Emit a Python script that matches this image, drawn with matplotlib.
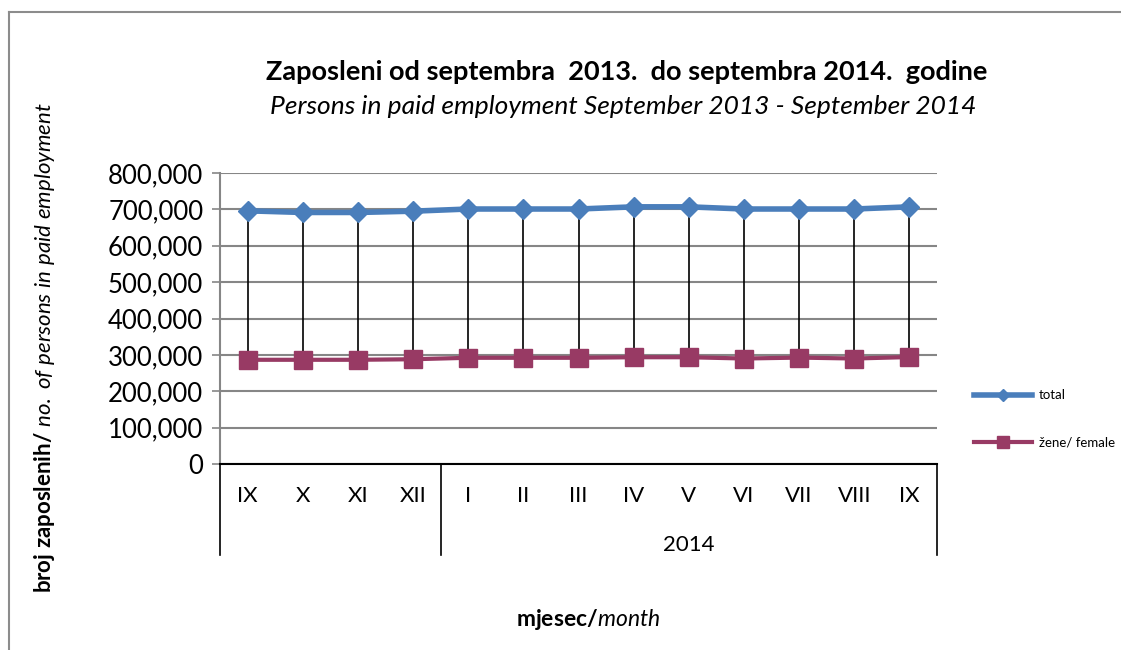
import matplotlib
matplotlib.use('Agg')
import matplotlib.pyplot as plt
import numpy as np
from matplotlib.ticker import FuncFormatter

# ----------------------------------------------------------
# Data (ocitano sa grafika)
# ----------------------------------------------------------
mjeseci = ['IX', 'X', 'XI', 'XII', 'I', 'II', 'III', 'IV', 'V', 'VI', 'VII', 'VIII', 'IX']
godine = ['', '2014']
godina_pocetak = [0, 4]          # indeks prvog mjeseca u svakoj grupi
ukupno = [696000, 691500, 691500, 695000, 701000, 701000, 701000,
          707000, 707000, 701000, 701000, 701000, 707000]
zene = [286500, 286500, 286500, 288000, 292000, 292000, 292000,
        293500, 293500, 290000, 292500, 290000, 294000]

y_ticks = np.arange(0, 800001, 100000)

plt.rcParams['font.family'] = ['Lato', 'DejaVu Sans']
plt.rcParams['mathtext.fontset'] = 'custom'
plt.rcParams['mathtext.rm'] = 'Lato'
plt.rcParams['mathtext.bf'] = 'Lato:bold'
plt.rcParams['mathtext.it'] = 'Lato:italic'

W, H = 1121, 650
fig = plt.figure(figsize=(W / 100, H / 100), dpi=100)

# okvir grafika (samo gornja i lijeva ivica su vidljive)
fig.add_artist(plt.Line2D([9 / W, 1], [1 - 12 / H, 1 - 12 / H], color='#8c8c8c', lw=1.5))
fig.add_artist(plt.Line2D([9 / W, 9 / W], [0, 1 - 12 / H], color='#8c8c8c', lw=1.5))

ax = fig.add_axes([220 / W, 186 / H, 717 / W, 291 / H])
x = np.arange(len(mjeseci))

ax.vlines(x, zene, ukupno, color='black', lw=1.2, zorder=2)
ax.plot(x, ukupno, color='#4a7ebb', lw=4, marker='D', markersize=10,
        label='total', zorder=3)
ax.plot(x, zene, color='#983a64', lw=3, marker='s', markersize=13,
        label='žene/ female', zorder=3)

ax.set_xlim(-0.5, len(mjeseci) - 0.5)
ax.set_ylim(0, 800000)
ax.set_yticks(y_ticks)
ax.yaxis.set_major_formatter(FuncFormatter(lambda v, p: f'{int(v):,}'))
ax.tick_params(axis='y', labelsize=18.5, length=6, color='#868686', width=1.2, pad=6)
ax.set_xticks([])
ax.grid(axis='y', color='#868686', lw=1.5)
ax.set_axisbelow(True)
for s in ['top', 'right']:
    ax.spines[s].set_visible(False)
ax.spines['left'].set_color('#868686')
ax.spines['left'].set_linewidth(1.5)
ax.spines['bottom'].set_color('black')
ax.spines['bottom'].set_linewidth(1.5)

# kategorijska osa u dva reda (mjesec / godina)
tr = ax.get_xaxis_transform()
dno = -91 / 291
granice = godina_pocetak + [len(mjeseci)]
for g in granice:
    ax.plot([g - 0.5, g - 0.5], [0, dno], transform=tr, color='black', lw=1.2, clip_on=False)
for i, m in enumerate(mjeseci):
    ax.text(i, -32 / 291, m, transform=tr, ha='center', va='center', fontsize=16)
for k, god in enumerate(godine):
    sredina = (granice[k] + granice[k + 1] - 1) / 2
    ax.text(sredina, -81 / 291, god, transform=tr, ha='center', va='center', fontsize=16)

fig.text(627 / W, 1 - 72 / H, 'Zaposleni od septembra  2013.  do septembra 2014.  godine',
         ha='center', va='center', fontsize=19.5, fontweight='bold')
fig.text(623 / W, 1 - 106 / H, 'Persons in paid employment September 2013 - September 2014',
         ha='center', va='center', fontsize=19, style='italic')

fig.text(45 / W, 1 - 348 / H,
         r'$\mathbf{broj\ zaposlenih/}\mathit{\ no.\ of\ persons\ in\ paid\ employment}$',
         rotation=90, ha='center', va='center', fontsize=16)
fig.text(588 / W, 1 - 620 / H, r'$\mathbf{mjesec/}\mathit{month}$',
         ha='center', va='center', fontsize=16.5)

fig.legend(loc='center left', bbox_to_anchor=(962 / W, 1 - 419 / H), frameon=False,
           fontsize=9.5, handlelength=4.4, labelspacing=2.7, markerscale=0.65,
           handletextpad=0.5)

fig.savefig('out.png', dpi=100, facecolor='white')
